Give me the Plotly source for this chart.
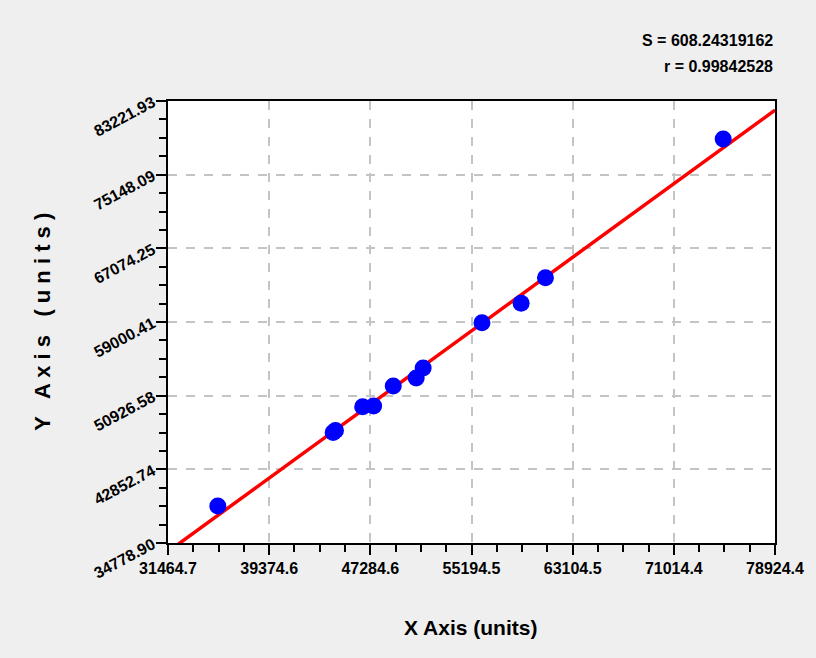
import numpy as np
import plotly.graph_objects as go

# Measured samples
x_vals = [35361, 44380, 44560, 46685, 47542, 49077, 50870, 51415, 56013, 59076, 60977, 74872]
y_vals = [38834, 46880, 47100, 49717, 49793, 51986, 52863, 53959, 58924, 61050, 63856, 79057]

# Axis ticks
x_ticks = [31464.7, 39374.6, 47284.6, 55194.5, 63104.5, 71014.4, 78924.4]
x_tick_text = ["31464.7", "39374.6", "47284.6", "55194.5", "63104.5", "71014.4", "78924.4"]
y_ticks = [34778.90, 42852.74, 50926.58, 59000.41, 67074.25, 75148.09, 83221.93]
y_tick_text = ["34778.90", "42852.74", "50926.58", "59000.41", "67074.25", "75148.09", "83221.93"]

stats_lines = ["S = 608.24319162", "r = 0.99842528"]

FONT = "Liberation Sans Narrow, Arial Narrow, Liberation Sans, Arial, sans-serif"

# Least-squares line through the samples
slope, intercept = np.polyfit(x_vals, y_vals, 1)
line_x = np.array([x_ticks[0], x_ticks[-1]])
line_y = slope * line_x + intercept


def minor_vals(majors, n=4):
    out = []
    for a, b in zip(majors[:-1], majors[1:]):
        step = (b - a) / n
        out += [a + step * k for k in range(1, n)]
    return out


fig = go.Figure()
fig.add_trace(go.Scatter(
    x=line_x, y=line_y, mode="lines",
    line=dict(color="#ff0000", width=3.5), hoverinfo="skip", showlegend=False,
))
fig.add_trace(go.Scatter(
    x=x_vals, y=y_vals, mode="markers",
    marker=dict(color="#0000ff", size=17, line=dict(width=0)),
    showlegend=False, cliponaxis=False,
))

axis_common = dict(
    showline=True, linecolor="black", linewidth=2, mirror=True,
    ticks="outside", ticklen=10, tickwidth=2, tickcolor="black",
    showgrid=True, gridcolor="#c4c4c4", gridwidth=1.5, griddash="dash",
    zeroline=False, tickmode="array",
    tickfont=dict(family=FONT, size=16, color="black", weight="bold"),
)

fig.update_xaxes(
    **axis_common,
    range=[x_ticks[0], x_ticks[-1]],
    tickvals=x_ticks, ticktext=x_tick_text,
    minor=dict(ticks="outside", ticklen=7, tickwidth=1.5, tickcolor="black",
               tickvals=minor_vals(x_ticks), showgrid=False),
)
fig.update_yaxes(
    **axis_common,
    range=[y_ticks[0], y_ticks[-1]],
    tickvals=y_ticks, ticktext=y_tick_text, tickangle=-28,
    minor=dict(ticks="outside", ticklen=7, tickwidth=1.5, tickcolor="black",
               tickvals=minor_vals(y_ticks), showgrid=False),
)

annotations = [
    dict(text=stats_lines[0], xref="paper", yref="paper", x=1.0, y=1.138,
         xanchor="right", yanchor="middle", showarrow=False,
         font=dict(family=FONT, size=16, color="black", weight="bold")),
    dict(text=stats_lines[1], xref="paper", yref="paper", x=1.0, y=1.077,
         xanchor="right", yanchor="middle", showarrow=False,
         font=dict(family=FONT, size=16, color="black", weight="bold")),
    dict(text="X Axis (units)", xref="paper", yref="paper", x=0.499, y=-0.192,
         xanchor="center", yanchor="middle", showarrow=False,
         font=dict(family=FONT, size=21, color="black", weight="bold")),
    dict(text="Y   A x i s   ( u n i t s )", xref="paper", yref="paper", x=-0.208, y=0.5,
         xanchor="center", yanchor="middle", showarrow=False, textangle=-90,
         font=dict(family="Liberation Sans, Arial, sans-serif", size=22,
                   color="black", weight="bold")),
]

fig.update_layout(
    width=816, height=658,
    margin=dict(l=168, r=39, t=101, b=115),
    paper_bgcolor="#efefef", plot_bgcolor="white",
    annotations=annotations,
    showlegend=False,
)

fig.write_html("out.html")
